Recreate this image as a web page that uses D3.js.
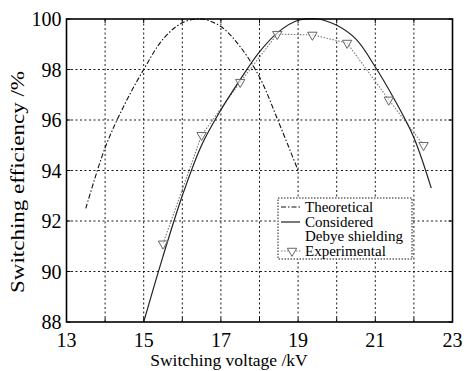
<!DOCTYPE html>
<html><head><meta charset="utf-8">
<script src="https://cdn.jsdelivr.net/npm/d3@7"></script>
<style>body{margin:0;background:#fff}svg{display:block}</style>
</head><body><svg id="c" width="468" height="371"></svg>
<script>
// Data
const theoV   = [13.5, 14, 14.5, 15, 15.5, 16, 16.5, 17, 17.5, 18, 18.5, 19];
const theoEff = [92.5, 94.9, 96.6, 98.0, 99.2, 99.85, 100, 99.7, 98.9, 97.7, 95.9, 94.0];
const debV    = [15.0, 15.5, 16, 16.5, 17, 17.5, 18, 18.5, 19, 19.5, 20, 20.5, 21, 21.5, 22, 22.45];
const debEff  = [88.0, 90.6, 93.0, 95.0, 96.4, 97.6, 98.7, 99.5, 99.95, 100.0, 99.75, 99.2, 98.1, 96.8, 95.3, 93.3];
const expV    = [15.5, 16.5, 17.5, 18.46, 19.37, 20.27, 21.35, 22.25];
const expEff  = [91.1, 95.4, 97.5, 99.4, 99.37, 99.05, 96.8, 95.0];
const xTickLabels = [13, 15, 17, 19, 21, 23];
const yTickLabels = [88, 90, 92, 94, 96, 98, 100];
const xGrid = [14, 15, 16, 17, 18, 19, 20, 21, 22];
const legendLabels = ["Theoretical", "Considered", "Debye shielding", "Experimental"];

const FONT = "Liberation Serif, Tinos, Times New Roman, DejaVu Serif, serif";
const svg = d3.select("#c");
const L = 66.5, R = 452.5, T = 19, B = 322;
const x = d3.scaleLinear().domain([13, 23]).range([L, R]);
const y = d3.scaleLinear().domain([88, 100]).range([B, T]);

// grid
const g = svg.append("g");
g.selectAll(".vg").data(xGrid).enter().append("line")
  .attr("x1", d => x(d)).attr("x2", d => x(d)).attr("y1", T).attr("y2", B)
  .attr("stroke", "#000").attr("stroke-width", 0.9).attr("stroke-dasharray", "2,2.5");
g.selectAll(".hg").data(yTickLabels.slice(1, -1)).enter().append("line")
  .attr("y1", d => y(d)).attr("y2", d => y(d)).attr("x1", L).attr("x2", R)
  .attr("stroke", "#000").attr("stroke-width", 0.9).attr("stroke-dasharray", "2,2.5");

// ticks (inward)
const tk = 4;
xGrid.concat([13, 23]).forEach(v => {
  svg.append("line").attr("x1", x(v)).attr("x2", x(v)).attr("y1", B).attr("y2", B - tk).attr("stroke", "#000");
  svg.append("line").attr("x1", x(v)).attr("x2", x(v)).attr("y1", T).attr("y2", T + tk).attr("stroke", "#000");
});
yTickLabels.forEach(v => {
  svg.append("line").attr("x1", L).attr("x2", L + tk).attr("y1", y(v)).attr("y2", y(v)).attr("stroke", "#000");
  svg.append("line").attr("x1", R).attr("x2", R - tk).attr("y1", y(v)).attr("y2", y(v)).attr("stroke", "#000");
});

// tick labels
svg.selectAll(".xl").data(xTickLabels).enter().append("text")
  .style("font-family", FONT)
  .attr("x", d => x(d)).attr("y", 347).attr("text-anchor", "middle")
  .attr("font-size", 20).text(d => d);
svg.selectAll(".yl").data(yTickLabels).enter().append("text")
  .style("font-family", FONT)
  .attr("x", 61.5).attr("y", d => y(d) + 7).attr("text-anchor", "end")
  .attr("font-size", 20).text(d => d);

// axis titles
svg.append("text").style("font-family", FONT).attr("x", 229).attr("y", 366).attr("text-anchor", "middle")
  .attr("font-size", 17.5).text("Switching voltage /kV");
svg.append("text").style("font-family", FONT).attr("transform", "translate(24,182) rotate(-90)")
  .attr("text-anchor", "middle").attr("font-size", 18)
  .attr("textLength", 222).attr("lengthAdjust", "spacingAndGlyphs")
  .text("Switching efficiency /%");

// lines
const lineTheo = d3.line().x(i => x(theoV[i])).y(i => y(theoEff[i])).curve(d3.curveCatmullRom);
const lineDeb = d3.line().x(i => x(debV[i])).y(i => y(debEff[i])).curve(d3.curveCatmullRom);
const lineExp = d3.line().x(i => x(expV[i])).y(i => y(expEff[i]));

svg.append("path").attr("d", lineTheo(d3.range(theoV.length)))
  .attr("fill", "none").attr("stroke", "#111").attr("stroke-width", 1.1)
  .attr("stroke-dasharray", "5,2,1.5,2");
svg.append("path").attr("d", lineExp(d3.range(expV.length)))
  .attr("fill", "none").attr("stroke", "#777").attr("stroke-width", 1.1)
  .attr("stroke-dasharray", "1.5,1.5");
svg.append("path").attr("d", lineDeb(d3.range(debV.length)))
  .attr("fill", "none").attr("stroke", "#222").attr("stroke-width", 1.2);

const tri = d3.symbol().type(d3.symbolTriangle).size(38);
svg.selectAll(".mk").data(d3.range(expV.length)).enter().append("path")
  .attr("d", tri)
  .attr("transform", i => `translate(${x(expV[i])},${y(expEff[i])}) rotate(180)`)
  .attr("fill", "#fff").attr("fill-opacity", 0.6).attr("stroke", "#666").attr("stroke-width", 1);

// frame
svg.append("rect").attr("x", L).attr("y", T).attr("width", R - L).attr("height", B - T)
  .attr("fill", "none").attr("stroke", "#000").attr("stroke-width", 1.6);

// legend
const lg = svg.append("g");
lg.append("rect").attr("x", 278).attr("y", 198).attr("width", 134).attr("height", 61)
  .attr("fill", "#fff").attr("stroke", "#000").attr("stroke-width", 0.9).attr("stroke-dasharray", "1.5,1.5");
const baselines = [212, 226.7, 241.4, 256];
lg.selectAll(".lt").data(legendLabels).enter().append("text")
  .style("font-family", FONT)
  .attr("x", 305).attr("y", (d, i) => baselines[i]).attr("font-size", 15).text(d => d);
lg.append("line").attr("x1", 281).attr("x2", 300).attr("y1", 207).attr("y2", 207)
  .attr("stroke", "#111").attr("stroke-width", 1.1).attr("stroke-dasharray", "5,2,1.5,2");
lg.append("line").attr("x1", 281).attr("x2", 300).attr("y1", 222).attr("y2", 222)
  .attr("stroke", "#222").attr("stroke-width", 1.2);
lg.append("line").attr("x1", 281).attr("x2", 302).attr("y1", 251).attr("y2", 251)
  .attr("stroke", "#777").attr("stroke-width", 1.1).attr("stroke-dasharray", "1.5,1.5");
lg.append("path").attr("d", tri).attr("transform", "translate(292,251) rotate(180)")
  .attr("fill", "#fff").attr("stroke", "#666");
</script></body></html>
